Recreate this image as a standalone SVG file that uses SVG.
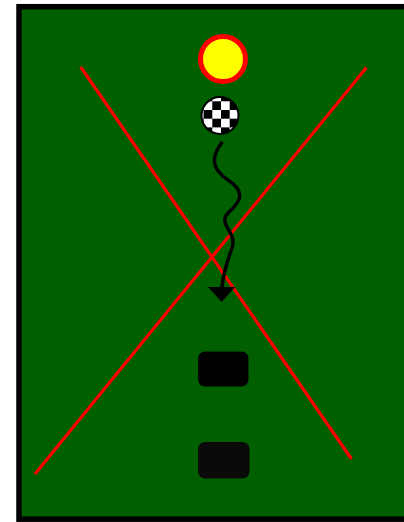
<svg xmlns="http://www.w3.org/2000/svg" width="404" height="522" viewBox="0 0 404 522">
  <defs>
    <style>
      .field { fill: #006000; stroke: #000; stroke-width: 5.5; }
      .cross { stroke: #ff0000; stroke-width: 3.2; stroke-linecap: butt; fill: none; }
      .block { stroke: none; }
      .conn { fill: none; stroke: #000; stroke-width: 3.5; stroke-linecap: round; }
    </style>
    <pattern id="checker" patternUnits="userSpaceOnUse" x="203.6" y="92.6" width="17.4" height="17.4">
      <rect x="0" y="0" width="17.4" height="17.4" fill="#fff"/>
      <rect x="0" y="0" width="8.7" height="8.7" fill="#000"/>
      <rect x="8.7" y="8.7" width="8.7" height="8.7" fill="#000"/>
    </pattern>
  </defs>

  <g id="field">
    <rect class="field" x="19" y="6.7" width="400" height="512.5"/>
  </g>

  <g id="cross">
    <line class="cross" x1="80.7" y1="67" x2="351.5" y2="459"/>
    <line class="cross" x1="366.5" y1="67.5" x2="35" y2="474"/>
  </g>

  <g id="target">
    <circle cx="223" cy="59" r="22.5" fill="#ffff00" stroke="#ff0000" stroke-width="5"/>
  </g>

  <g id="ball">
    <circle cx="220" cy="115.5" r="18.5" fill="url(#checker)" stroke="#000" stroke-width="2"/>
  </g>

  <g id="block1">
    <rect class="block" x="198" y="351.5" width="50.5" height="35" rx="7" fill="#000"/>
  </g>

  <g id="block2">
    <rect class="block" x="198" y="442" width="51.5" height="36.5" rx="7" fill="#0a0a0a"/>
  </g>

  <g id="connectors">
    <path class="conn" d="M221.5,143 C212,156 210,168 228,180 C246,192 241,201 229,212 C216,224 238,232 232,248 C227,262 223,275 222,287"/>
    <path d="M208,287 L235,287 L221.7,302 Z" fill="#000"/>
  </g>
</svg>
